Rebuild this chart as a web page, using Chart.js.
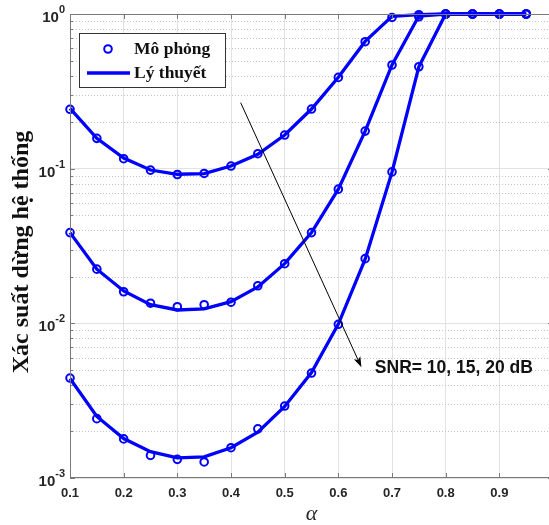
<!DOCTYPE html>
<html>
<head>
<meta charset="utf-8">
<script src="https://cdn.jsdelivr.net/npm/chart.js@4.4.1/dist/chart.umd.min.js"></script>
<style>
  html, body { margin: 0; padding: 0; overflow: hidden; background: #fff; }
  canvas { display: block; }
</style>
</head>
<body>
<canvas id="chart" width="559" height="525"></canvas>
<script>
// alpha values (x axis)
const alpha = [0.1, 0.15, 0.2, 0.25, 0.3, 0.35, 0.4, 0.45, 0.5, 0.55, 0.6, 0.65, 0.7, 0.75, 0.8, 0.85, 0.9, 0.95];

// simulation markers, SNR = 10, 15, 20 dB
const sim10 = [0.242, 0.157, 0.116, 0.0978, 0.0917, 0.0931, 0.104, 0.125, 0.165, 0.243, 0.389, 0.662, 0.95, 0.99, 1, 1, 1, 1];
const sim15 = [0.0386, 0.0224, 0.0160, 0.0135, 0.0128, 0.0132, 0.0137, 0.0175, 0.0243, 0.0386, 0.0737, 0.175, 0.468, 0.96, 1, 1, 1, 1];
const sim20 = [0.00443, 0.00242, 0.00179, 0.00140, 0.00132, 0.00127, 0.00157, 0.00208, 0.00292, 0.00477, 0.00986, 0.0262, 0.0953, 0.456, 1, 1, 1, 1];

// theory lines
const theo10 = [0.245, 0.157, 0.117, 0.098, 0.092, 0.093, 0.104, 0.124, 0.165, 0.243, 0.39, 0.665, 0.965, 0.99, 1, 1, 1, 1];
const theo15 = [0.0386, 0.0224, 0.0162, 0.0132, 0.0122, 0.0124, 0.0138, 0.0172, 0.0243, 0.0386, 0.0737, 0.175, 0.468, 0.97, 1, 1, 1, 1];
const theo20 = [0.0044, 0.0025, 0.0018, 0.00148, 0.00135, 0.00137, 0.00157, 0.00198, 0.0029, 0.0048, 0.0099, 0.026, 0.095, 0.456, 1, 1, 1, 1];

const yTickExps = [0, -1, -2, -3];
const legendLabels = ['Mô phỏng', 'Lý thuyết'];
const yTitle = 'Xác suất dừng hệ thống';
const xTitle = 'α';
const noteText = 'SNR= 10, 15, 20 dB';
const arrowFrom = [0.418, 0.267];
const arrowTo = [0.643, 0.0052];
const notePos = [0.668, 0.00515];

const BLUE = '#0000ff';
const AXIS = '#7a7a7a';
const TXT = '#262626';
const TICK_FONT = 'bold 13px "Liberation Sans", Arial';
const pts = ys => alpha.map((a, i) => ({ x: a, y: ys[i] }));

function lineSet(ys) {
  return { data: pts(ys), borderColor: BLUE, borderWidth: 3.3, pointRadius: 0, tension: 0, fill: false };
}
function simSet(ys) {
  return { data: pts(ys), showLine: false, borderColor: BLUE, backgroundColor: 'rgba(0,0,0,0)',
    pointRadius: 3.8, pointBorderWidth: 2, pointBorderColor: BLUE };
}

const overlay = {
  id: 'overlay',
  beforeDatasetsDraw(chart) {
    const { ctx, chartArea: a, scales: { y } } = chart;
    // dotted minor grid (MATLAB style)
    ctx.save();
    ctx.strokeStyle = '#c4c4c4';
    ctx.lineWidth = 1;
    ctx.setLineDash([1, 2]);
    for (let k = -3; k < 0; k++) {
      for (let m = 2; m <= 9; m++) {
        const py = Math.round(y.getPixelForValue(m * Math.pow(10, k))) + 0.5;
        ctx.beginPath(); ctx.moveTo(a.left, py); ctx.lineTo(a.right, py); ctx.stroke();
      }
    }
    ctx.restore();
  },
  afterDatasetsDraw(chart) {
    const { ctx, chartArea: a, scales: { x, y } } = chart;
    ctx.save();
    // axes box
    ctx.strokeStyle = AXIS;
    ctx.lineWidth = 1;
    ctx.strokeRect(a.left + 0.5, a.top + 0.5, a.right - a.left - 1, a.bottom - a.top - 1);

    // inward ticks
    ctx.beginPath();
    for (let v = 1; v <= 10; v++) {
      const px = Math.round(x.getPixelForValue(v / 10)) + 0.5;
      ctx.moveTo(px, a.bottom); ctx.lineTo(px, a.bottom - 5);
      ctx.moveTo(px, a.top); ctx.lineTo(px, a.top + 5);
    }
    for (let k = -3; k <= 0; k++) {
      for (let m = 1; m <= 9; m++) {
        if (k === 0 && m > 1) break;
        const py = Math.round(y.getPixelForValue(m * Math.pow(10, k))) + 0.5;
        const len = m === 1 ? 5 : 3;
        ctx.moveTo(a.left, py); ctx.lineTo(a.left + len, py);
        ctx.moveTo(a.right, py); ctx.lineTo(a.right - len, py);
      }
    }
    ctx.stroke();

    // last x tick label (kept out of the scale so it adds no padding)
    ctx.fillStyle = TXT;
    ctx.font = TICK_FONT;
    ctx.textAlign = 'center';
    ctx.textBaseline = 'top';
    ctx.fillText('1', x.getPixelForValue(1), a.bottom + 8);

    // y tick labels 10^k
    ctx.textBaseline = 'alphabetic';
    yTickExps.forEach(e => {
      const py = y.getPixelForValue(Math.pow(10, e));
      ctx.font = 'bold 11px "Liberation Sans", Arial';
      ctx.textAlign = 'right';
      const exp = e === 0 ? '0' : '-' + Math.abs(e);
      const ew = ctx.measureText(exp).width;
      ctx.fillText(exp, a.left - 5, py - 1);
      ctx.font = 'bold 15px "Liberation Sans", Arial';
      ctx.fillText('10', a.left - 5 - ew, py + 8);
    });

    // axis titles
    ctx.save();
    ctx.translate(22, 252);
    ctx.rotate(-Math.PI / 2);
    ctx.textAlign = 'center';
    ctx.textBaseline = 'middle';
    ctx.font = 'bold 24px "Liberation Serif", "Times New Roman"';
    ctx.fillStyle = '#111';
    ctx.fillText(yTitle, 0, 0);
    ctx.restore();
    ctx.textAlign = 'center';
    ctx.textBaseline = 'middle';
    ctx.font = 'italic 22px "Liberation Serif", "Times New Roman"';
    ctx.fillStyle = TXT;
    ctx.fillText(xTitle, (a.left + a.right) / 2, 514);

    // arrow annotation
    const x0 = x.getPixelForValue(arrowFrom[0]), y0 = y.getPixelForValue(arrowFrom[1]);
    const x1 = x.getPixelForValue(arrowTo[0]), y1 = y.getPixelForValue(arrowTo[1]);
    const ang = Math.atan2(y1 - y0, x1 - x0);
    ctx.strokeStyle = '#000';
    ctx.fillStyle = '#000';
    ctx.lineWidth = 1;
    ctx.beginPath(); ctx.moveTo(x0, y0);
    ctx.lineTo(x1 - 8 * Math.cos(ang), y1 - 8 * Math.sin(ang)); ctx.stroke();
    ctx.beginPath();
    ctx.moveTo(x1, y1);
    ctx.lineTo(x1 - 11 * Math.cos(ang - 0.33), y1 - 11 * Math.sin(ang - 0.33));
    ctx.lineTo(x1 - 8 * Math.cos(ang), y1 - 8 * Math.sin(ang));
    ctx.lineTo(x1 - 11 * Math.cos(ang + 0.33), y1 - 11 * Math.sin(ang + 0.33));
    ctx.closePath(); ctx.fill();

    ctx.textAlign = 'left';
    ctx.textBaseline = 'middle';
    ctx.font = 'bold 17.5px "Liberation Sans", Arial';
    ctx.fillStyle = '#111';
    ctx.fillText(noteText, x.getPixelForValue(notePos[0]), y.getPixelForValue(notePos[1]));

    // legend box
    ctx.fillStyle = '#fff';
    ctx.fillRect(79, 33, 146, 54);
    ctx.strokeStyle = '#333';
    ctx.strokeRect(79.5, 33.5, 146, 54);
    ctx.strokeStyle = BLUE;
    ctx.lineWidth = 2;
    ctx.beginPath(); ctx.arc(108, 49, 3.8, 0, Math.PI * 2); ctx.stroke();
    ctx.lineWidth = 3.3;
    ctx.beginPath(); ctx.moveTo(87, 73); ctx.lineTo(130, 73); ctx.stroke();
    ctx.fillStyle = '#111';
    ctx.font = 'bold 17.5px "Liberation Serif", "Times New Roman"';
    ctx.textAlign = 'left';
    ctx.textBaseline = 'middle';
    ctx.fillText(legendLabels[0], 134, 49);
    ctx.fillText(legendLabels[1], 134, 73);
    ctx.restore();
  }
};

new Chart(document.getElementById('chart'), {
  type: 'line',
  data: {
    datasets: [lineSet(theo10), lineSet(theo15), lineSet(theo20), simSet(sim10), simSet(sim15), simSet(sim20)]
  },
  options: {
    responsive: false,
    devicePixelRatio: 1,
    animation: false,
    clip: false,
    layout: { padding: { top: 14, left: 0, right: 0, bottom: 0 } },
    plugins: { legend: { display: false }, tooltip: { enabled: false } },
    scales: {
      x: {
        type: 'linear', min: 0.1, max: 1.0,
        ticks: {
          stepSize: 0.1, padding: 8, color: TXT, maxRotation: 0, autoSkip: false,
          font: { family: '"Liberation Sans", Arial', weight: 'bold', size: 13 },
          callback: v => (v >= 0.999 ? '' : String(Number(v.toFixed(1))))
        },
        grid: { color: '#e2e2e2', drawTicks: false },
        border: { display: false },
        afterFit: s => { s.height = 47; s.paddingLeft = 0; s.paddingRight = 0; }
      },
      y: {
        type: 'logarithmic', min: 0.001, max: 1,
        ticks: { display: false },
        grid: {
          drawTicks: false,
          color: c => {
            const v = c.tick ? c.tick.value : 0;
            const l = Math.log10(v);
            return Math.abs(l - Math.round(l)) < 1e-6 ? '#e2e2e2' : 'rgba(0,0,0,0)';
          }
        },
        border: { display: false },
        afterFit: s => { s.width = 70; s.paddingTop = 0; s.paddingBottom = 0; }
      }
    }
  },
  plugins: [overlay]
});
</script>
</body>
</html>
